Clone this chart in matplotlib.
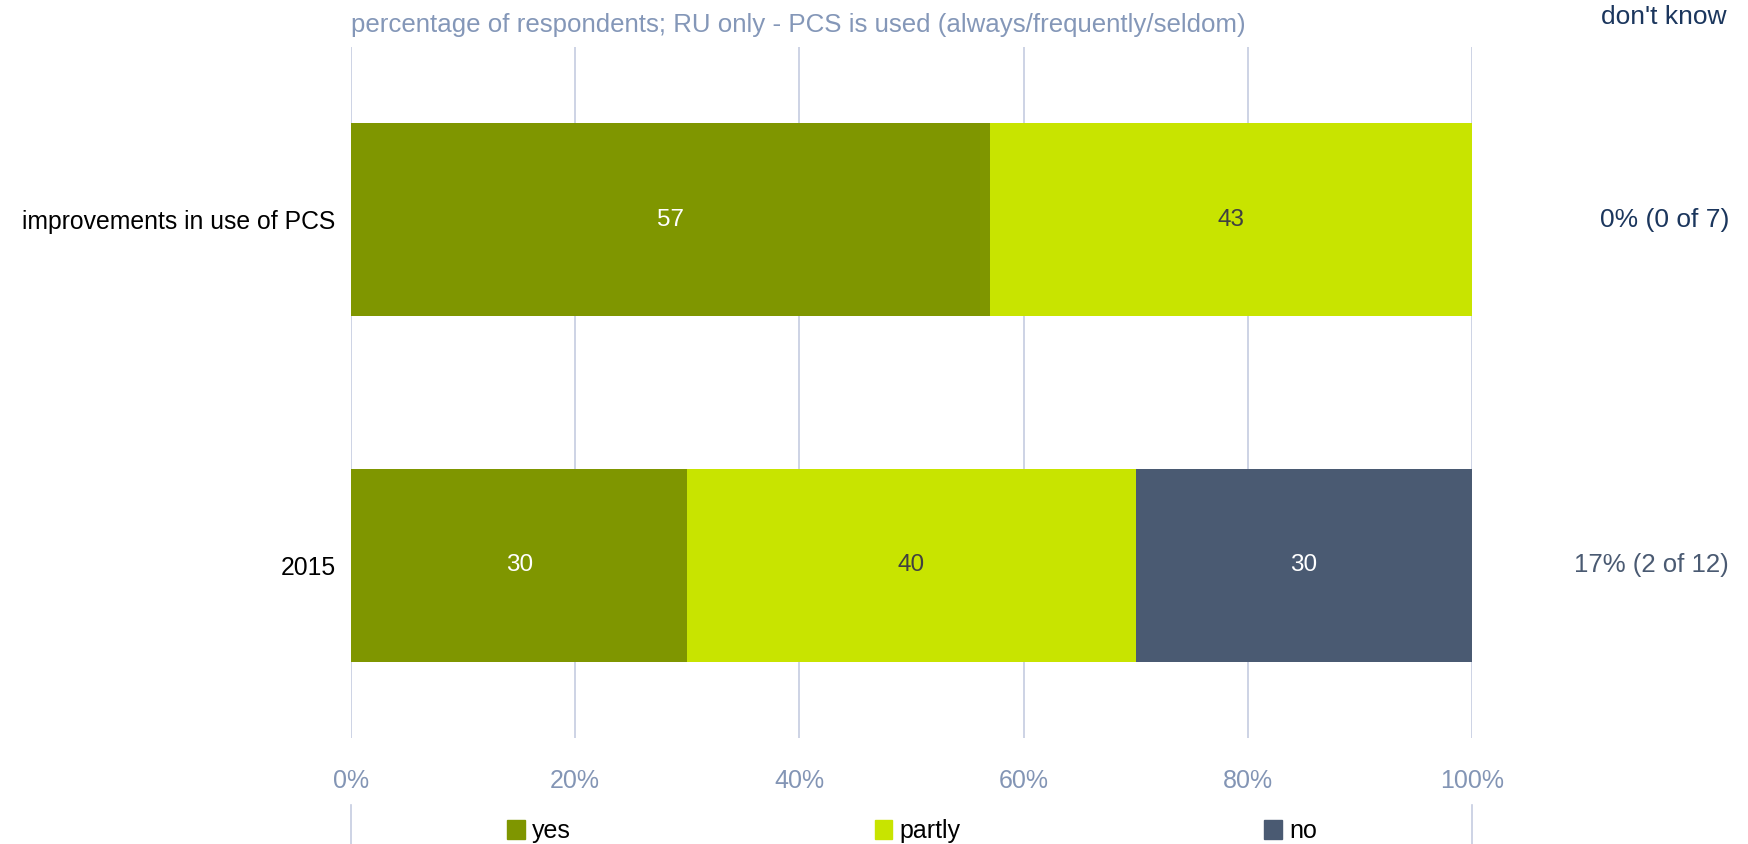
import matplotlib
matplotlib.use('Agg')
import matplotlib.pyplot as plt
import matplotlib.patches as patches
from matplotlib.lines import Line2D
from matplotlib.transforms import blended_transform_factory

plt.rcParams['font.family'] = ['Liberation Sans', 'DejaVu Sans']

categories = ["2015", "improvements in use of PCS"]
yes = [30, 57]
partly = [40, 43]
no = [30, 0]
dont_know = ["17% (2 of 12)", "0% (0 of 7)"]
dont_know_colors = ["#4A5A72", "#1B365D"]

series = [("yes", yes, "#7F9600", "white"),
          ("partly", partly, "#C8E400", "#404040"),
          ("no", no, "#4A5A72", "white")]

W, H = 1749, 844
fig = plt.figure(figsize=(W / 100, H / 100), dpi=100)
ax = fig.add_axes([351 / W, 1 - 738 / H, (1472 - 351) / W, (738 - 47) / H])

left = [0] * len(categories)
for name, vals, color, txtcol in series:
    bars = ax.barh(range(len(categories)), vals, left=left, height=0.56,
                   color=color, label=name, zorder=2)
    for b, v in zip(bars, vals):
        if v > 0:
            ax.text(b.get_x() + b.get_width() / 2, b.get_y() + b.get_height() / 2,
                    f"{v}", ha="center", va="center", color=txtcol, fontsize=17.5)
    left = [l + v for l, v in zip(left, vals)]

ax.set_xlim(0, 100)
ax.set_ylim(-0.5, 1.5)
ax.set_xticks(range(0, 101, 20))
ax.set_xticklabels([f"{t}%" for t in range(0, 101, 20)])
ax.set_yticks(range(len(categories)))
ax.set_yticklabels(categories)
ax.tick_params(axis="x", length=0, pad=22, labelsize=18, labelcolor="#8395B5")
ax.tick_params(axis="y", length=0, pad=11, labelsize=17.8, labelcolor="black")
ax.grid(axis="x", color="#C5CCE0", lw=1.2, zorder=0)
for s in ax.spines.values():
    s.set_visible(False)

# don't know column on the right
tr = blended_transform_factory(fig.transFigure, ax.transData)
for i, (lab, c) in enumerate(zip(dont_know, dont_know_colors)):
    ax.text(1729 / W, i, lab, transform=tr, ha="right", va="center",
            fontsize=19 if i else 18.5, color=c)
fig.text(1727 / W, 1 - 17 / H, "don't know", ha="right", va="center", fontsize=19, color="#1B365D")

fig.text(351 / W, 1 - 25 / H, "percentage of respondents; RU only - PCS is used (always/frequently/seldom)",
         ha="left", va="center", fontsize=18.6, color="#8497B8")

# short gridline stubs beside the legend
for xf in (351 / W, 1472 / W):
    fig.add_artist(Line2D([xf, xf], [0, 1 - 805 / H], color="#C5CCE0", lw=1.2))

handles = [patches.Patch(color=c, label=n) for n, _, c, _ in series]
fig.legend(handles=handles, loc="center left", bbox_to_anchor=(507 / W, 1 - 831 / H),
           ncol=3, frameon=False, fontsize=18, handlelength=0.7, handleheight=0.8,
           handletextpad=0.3, columnspacing=12.15, borderaxespad=0, borderpad=0)

fig.savefig("out.png", dpi=100)
